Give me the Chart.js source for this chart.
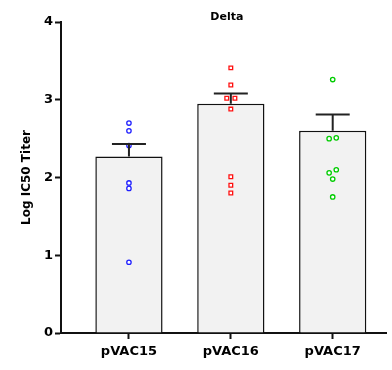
<!DOCTYPE html>
<html>
<head>
<meta charset="utf-8">
<script src="https://cdn.jsdelivr.net/npm/chart.js@4"></script>
<style>
  html, body { margin: 0; padding: 0; background: #fff; }
  #wrap { width: 392px; height: 370px; position: relative; }
</style>
</head>
<body>
<div id="wrap"><canvas id="chart"></canvas></div>
<script>
// --- data ---
const categories = ['pVAC15', 'pVAC16', 'pVAC17'];
const means = [2.27, 2.95, 2.60];
const sems = [0.16, 0.13, 0.21];
const yTicks = [0, 1, 2, 3, 4];

// individual animals per group (value, small horizontal jitter in category units)
const pVAC15Points = [2.70, 2.60, 2.41, 1.93, 1.86, 0.91];
const pVAC15Jitter = [0, 0, 0, 0, 0, 0];
const pVAC16Points = [3.41, 3.19, 3.02, 3.02, 2.88, 2.01, 1.90, 1.80];
const pVAC16Jitter = [0, 0, -0.04, 0.04, 0, 0, 0, 0];
const pVAC17Points = [3.26, 2.50, 2.51, 2.10, 2.06, 1.98, 1.75];
const pVAC17Jitter = [0, -0.035, 0.035, 0.035, -0.035, 0, 0];

const FONT = '"DejaVu Sans", Verdana, sans-serif';

function toXY(vals, jit, idx) {
    return vals.map((v, i) => ({ x: idx + 1 + jit[i], y: v }));
}

// error bars (mean + SEM, upper only)
const errorBars = {
    id: 'errorBars',
    afterDatasetsDraw(chart) {
        const { ctx, scales: { x, y } } = chart;
        ctx.save();
        ctx.strokeStyle = '#222';
        ctx.lineWidth = 2;
        means.forEach((m, i) => {
            const px = x.getPixelForValue(i + 1);
            const top = y.getPixelForValue(m + sems[i]);
            const base = y.getPixelForValue(m);
            ctx.beginPath();
            ctx.moveTo(px, base);
            ctx.lineTo(px, top);
            ctx.moveTo(px - 17, top);
            ctx.lineTo(px + 17, top);
            ctx.stroke();
        });
        ctx.restore();
    }
};

// chart title centred over the plot area
const plotTitle = {
    id: 'plotTitle',
    afterDraw(chart) {
        const { ctx, chartArea } = chart;
        ctx.save();
        ctx.font = 'bold 11px ' + FONT;
        ctx.fillStyle = '#000';
        ctx.textAlign = 'center';
        ctx.textBaseline = 'middle';
        ctx.fillText('Delta', (chartArea.left + chartArea.right) / 2 + 3, 17);
        ctx.restore();
    }
};

const pointDs = (vals, jit, idx, color, style) => ({
    type: 'scatter',
    data: toXY(vals, jit, idx),
    pointStyle: style,
    pointRadius: style === 'rect' ? 2.6 : 2.2,
    pointBorderWidth: 1.3,
    borderColor: color,
    backgroundColor: '#ffffff',
    pointBackgroundColor: '#ffffff',
    order: 0
});

new Chart(document.getElementById('chart'), {
    type: 'bar',
    data: {
        datasets: [
            {
                type: 'bar',
                data: means.map((m, i) => ({ x: i + 1, y: m })),
                backgroundColor: '#f2f2f2',
                borderColor: '#111',
                borderWidth: 1.5,
                barPercentage: 0.66,
                categoryPercentage: 1,
                order: 5
            },
            pointDs(pVAC15Points, pVAC15Jitter, 0, '#2020ff', 'circle'),
            pointDs(pVAC16Points, pVAC16Jitter, 1, '#ff1010', 'rect'),
            pointDs(pVAC17Points, pVAC17Jitter, 2, '#00cc00', 'circle')
        ]
    },
    options: {
        responsive: true,
        maintainAspectRatio: false,
        animation: false,
        layout: { padding: { top: 22, right: 0, left: 20, bottom: 0 } },
        plugins: { legend: { display: false }, tooltip: { enabled: false }, title: { display: false } },
        scales: {
            x: {
                type: 'linear',
                offset: false,
                min: 0.333,
                max: 3.53,
                afterBuildTicks: s => { s.ticks = categories.map((c, i) => ({ value: i + 1 })); },
                afterFit: s => { s.height = 37; },
                ticks: {
                    callback: v => categories[v - 1],
                    color: '#000',
                    font: { family: FONT, size: 13, weight: 'bold' },
                    padding: 5,
                    maxRotation: 0,
                    autoSkip: false
                },
                grid: { offset: false, drawOnChartArea: false, tickLength: 6, tickColor: '#111', tickWidth: 2 },
                border: { color: '#111', width: 2 }
            },
            y: {
                min: 0,
                max: 4,
                afterBuildTicks: s => { s.ticks = yTicks.map(v => ({ value: v })); },
                afterFit: s => { s.width = 41; },
                ticks: {
                    color: '#000',
                    font: { family: FONT, size: 13, weight: 'bold' },
                    padding: 2
                },
                grid: { drawOnChartArea: false, tickLength: 6, tickColor: '#111', tickWidth: 2 },
                border: { color: '#111', width: 2 },
                title: {
                    display: true,
                    text: 'Log IC50 Titer',
                    color: '#000',
                    font: { family: FONT, size: 12, weight: 'bold' },
                    padding: { top: 0, bottom: 4 }
                }
            }
        }
    },
    plugins: [errorBars, plotTitle]
});
</script>
</body>
</html>
